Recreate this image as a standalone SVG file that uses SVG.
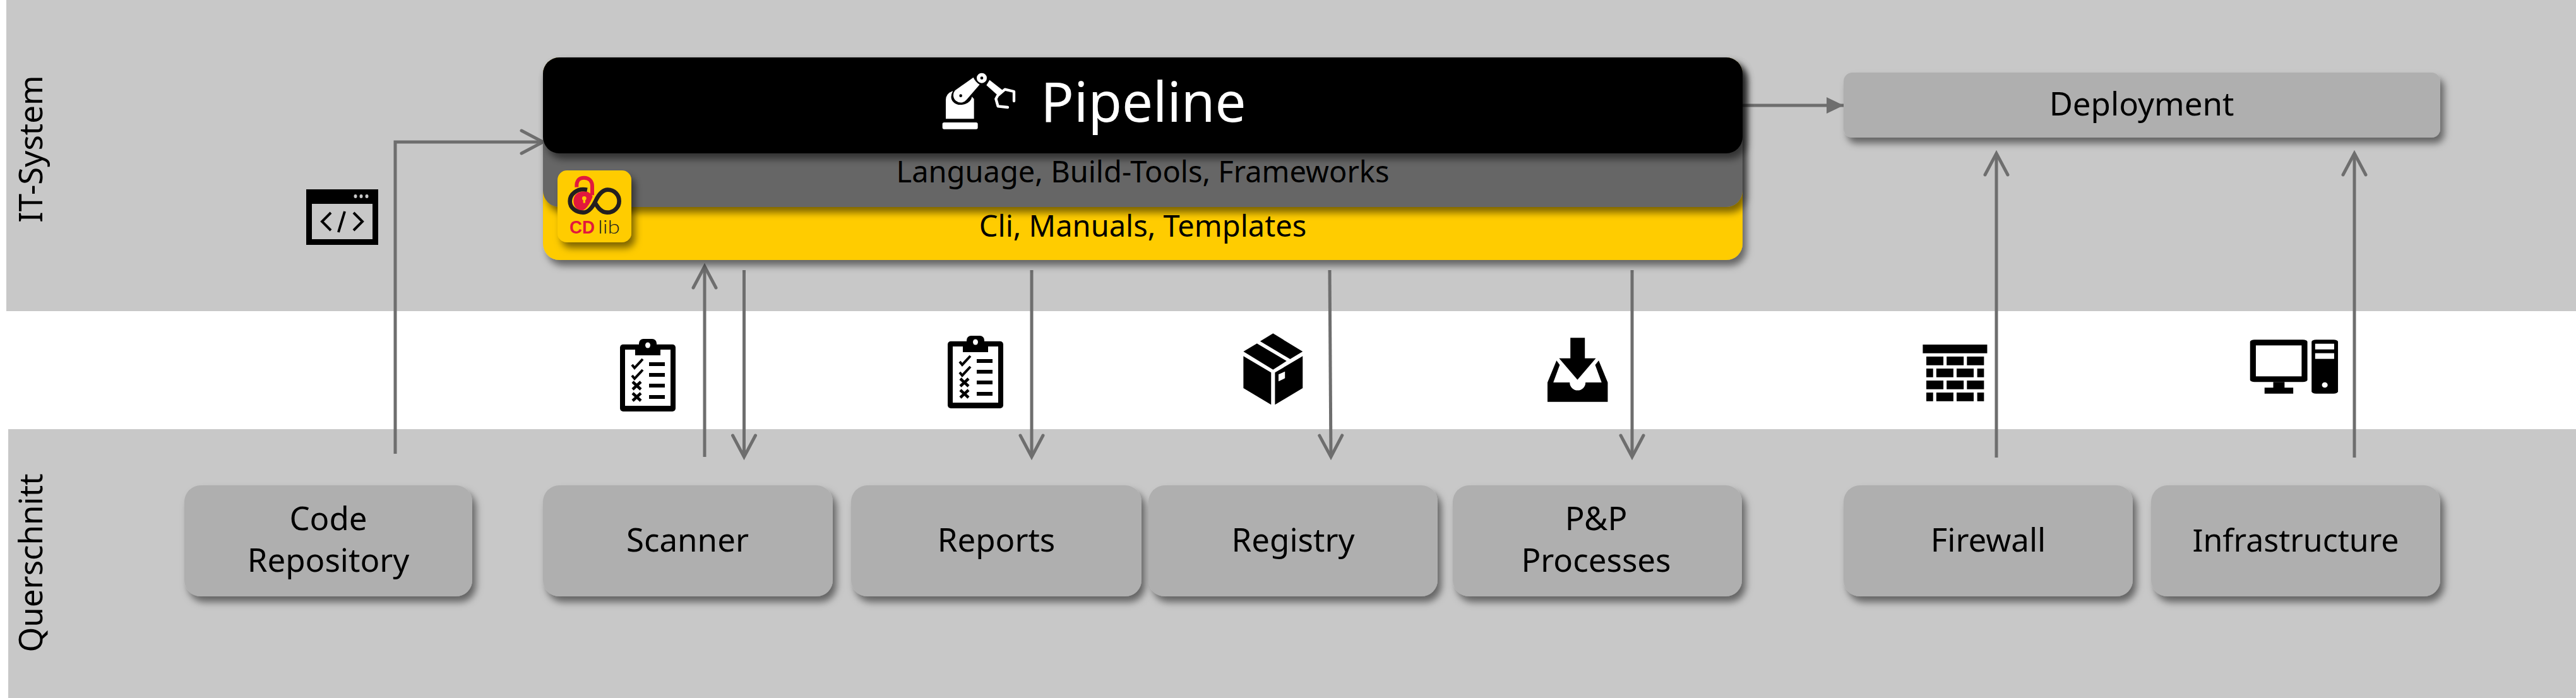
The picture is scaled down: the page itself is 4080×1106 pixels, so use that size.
<svg xmlns="http://www.w3.org/2000/svg" width="4080" height="1106" viewBox="0 0 4080 1106">
<style>
text{font-family:"Noto Sans","Open Sans","DejaVu Sans",sans-serif;fill:#000;font-weight:400}
.lbl{font-size:51px;text-anchor:middle}
.sub{font-size:47px;text-anchor:middle}
.node{fill:#afafaf;filter:url(#sh)}
.conn{fill:none;stroke:#6e6e6e;stroke-width:5}
.k{fill:#000}.w{fill:#fff}
</style>
<defs>
<filter id="sh" x="-10%" y="-20%" width="125%" height="145%"><feDropShadow dx="6" dy="9" stdDeviation="6" flood-color="#000" flood-opacity=".5"/></filter>
<marker id="open" markerUnits="userSpaceOnUse" markerWidth="50" markerHeight="50" refX="40" refY="25" orient="auto" viewBox="0 0 50 50"><path d="M6 7 L40 25 L6 43" fill="none" stroke="#6e6e6e" stroke-width="5" stroke-linecap="round"/></marker>
<marker id="solid" markerUnits="userSpaceOnUse" markerWidth="30" markerHeight="30" refX="27" refY="15" orient="auto" viewBox="0 0 30 30"><path d="M0 2 L27 15 L0 28Z" fill="#6e6e6e"/></marker>
<g id="clip">
<rect x="0" y="8.7" width="88" height="106.3" rx="5" class="k"/>
<rect x="8" y="17" width="72" height="89" class="w"/>
<rect x="30" y="0" width="28" height="20" rx="7" class="k"/>
<rect x="24" y="12" width="40" height="14" class="k"/>
<ellipse cx="44" cy="10" rx="4" ry="4.5" class="w"/>
<path d="M46 37h25v6H46zM46 54h25v6H46zM46 71h25v6H46zM46 89h25v6H46z" class="k"/>
<path d="M19 41l4 5L36 32M19 58l4 5L36 49" fill="none" stroke="#000" stroke-width="4"/>
<path d="M20 68l13 12M33 68L20 80M20 86l13 12M33 86L20 98" fill="none" stroke="#000" stroke-width="4.5"/>
</g>
</defs>

<g id="bands">
<rect x="10" y="0" width="4070" height="493" fill="#c8c8c8"/>
<rect x="13" y="680" width="4067" height="426" fill="#c8c8c8"/>
</g>
<g id="band-labels">
<text class="lbl" transform="translate(67 236) rotate(-90)">IT-System</text>
<text class="lbl" transform="translate(67 892) rotate(-90)">Querschnitt</text>
</g>

<g id="connectors">
<path class="conn" d="M626 719V225H860" marker-end="url(#open)"/>
<path class="conn" d="M1116 724V422" marker-end="url(#open)"/>
<path class="conn" d="M1178.500 428V724" marker-end="url(#open)"/>
<path class="conn" d="M1634 428V724" marker-end="url(#open)"/>
<path class="conn" d="M2106 428L2108 724" marker-end="url(#open)"/>
<path class="conn" d="M2585 428V724" marker-end="url(#open)"/>
<path class="conn" d="M3162 725V243" marker-end="url(#open)"/>
<path class="conn" d="M3729 725V243" marker-end="url(#open)"/>
<path class="conn" d="M2760 167H2920" marker-end="url(#solid)"/>
</g>

<g id="node-cli">
<rect x="860" y="91" width="1900" height="321" rx="26" fill="#ffcc00" filter="url(#sh)"/>
<text class="sub" x="1810" y="375">Cli, Manuals, Templates</text>
</g>
<g id="node-language">
<rect x="860" y="91" width="1900" height="237" rx="26" fill="#666" filter="url(#sh)"/>
<text class="sub" x="1810" y="289">Language, Build-Tools, Frameworks</text>
</g>
<g id="node-pipeline">
<rect x="860" y="91" width="1900" height="152" rx="26" fill="#000" filter="url(#sh)"/>
<g transform="translate(1460 100) scale(.3333)">
<rect x="98" y="282" width="168" height="32" rx="8" class="w"/>
<path class="w" d="M114 265V175Q114 145 148 132Q130 165 150 185Q170 205 205 195Q235 185 238 160L248 170V265Z"/>
<path class="w" fill-rule="evenodd" d="M158 130L245 68Q255 90 275 102L212 175A34 34 0 0 1 158 130ZM192 155A7 7 0 1 0 178 155A7 7 0 1 0 192 155Z"/>
<path class="w" fill-rule="evenodd" d="M309 71A24 24 0 1 0 261 71A24 24 0 1 0 309 71ZM292 71A7 7 0 1 0 278 71A7 7 0 1 0 292 71Z"/>
<path class="w" d="M322 80L385 130L360 152L307 105Z"/>
<path d="M360 155L395 125L438 135V180M360 155L352 170L362 205L408 210" fill="none" stroke="#fff" stroke-width="13" stroke-linecap="round" stroke-linejoin="round"/>
</g>
<text x="1811" y="193" style="font-size:87px;fill:#fff;text-anchor:middle">Pipeline</text>
</g>
<g id="node-cdlib">
<rect x="883" y="270" width="117" height="114" rx="15" fill="#ffcc00" filter="url(#sh)"/>
<g transform="translate(850 250) scale(.3333)">
<path d="M190 140C188 105 205 95 225 95C250 95 264 112 264 135V178" fill="none" stroke="#e2183d" stroke-width="18"/>
<path d="M175 205C175 175 200 160 225 160C250 160 262 175 266 185C255 215 235 248 215 250C195 250 175 235 175 205Z" fill="#e2183d"/>
<path d="M240 152C190 142 158 175 158 206C158 240 190 260 220 260C250 260 268 230 280 205C292 180 310 152 338 152C370 152 392 178 392 206C392 235 368 260 335 260C305 260 290 235 275 210" fill="none" stroke="#231f20" stroke-width="20"/>
<circle cx="226" cy="193" r="10" fill="#ffcc00"/>
<rect x="221" y="195" width="10" height="20" fill="#ffcc00"/>
</g>
<text x="902" y="370" style="font-size:29px;font-family:'Liberation Sans',sans-serif;font-weight:700;fill:#e2183d" textLength="40" lengthAdjust="spacingAndGlyphs">CD</text>
<text x="947" y="370" style="font-size:30px;font-family:'Lato',sans-serif;font-weight:300;fill:#231f20" textLength="35" lengthAdjust="spacingAndGlyphs">lib</text>
</g>

<g id="node-deployment">
<rect class="node" x="2920" y="115" width="945" height="103" rx="14"/>
<text class="lbl" x="3392" y="183">Deployment</text>
</g>
<g id="node-repository">
<rect class="node" x="292" y="769" width="456" height="176" rx="26"/>
<text class="lbl" x="520" y="840">Code</text>
<text class="lbl" x="520" y="906">Repository</text>
</g>
<g id="node-scanner">
<rect class="node" x="860" y="769" width="459" height="176" rx="26"/>
<text class="lbl" x="1089" y="874">Scanner</text>
</g>
<g id="node-reports">
<rect class="node" x="1348" y="769" width="460" height="176" rx="26"/>
<text class="lbl" x="1578" y="874">Reports</text>
</g>
<g id="node-registry">
<rect class="node" x="1819" y="769" width="458" height="176" rx="26"/>
<text class="lbl" x="2048" y="874">Registry</text>
</g>
<g id="node-processes">
<rect class="node" x="2301" y="769" width="458" height="176" rx="26"/>
<text class="lbl" x="2528" y="840">P&amp;P</text>
<text class="lbl" x="2528" y="906">Processes</text>
</g>
<g id="node-firewall">
<rect class="node" x="2920" y="769" width="458" height="176" rx="26"/>
<text class="lbl" x="3149" y="874">Firewall</text>
</g>
<g id="node-infrastructure">
<rect class="node" x="3407" y="769" width="458" height="176" rx="26"/>
<text class="lbl" x="3636" y="874" style="font-size:50px">Infrastructure</text>
</g>

<g id="icon-code">
<rect x="485" y="300" width="114" height="88" class="k"/>
<rect x="494" y="323" width="96" height="56" fill="#c8c8c8"/>
<ellipse cx="563" cy="311" rx="2.500" ry="3" fill="#c8c8c8"/><ellipse cx="572" cy="311" rx="2.500" ry="3" fill="#c8c8c8"/><ellipse cx="581" cy="311" rx="2.500" ry="3" fill="#c8c8c8"/>
<path d="M524 337L510 351L524 365M560 337L574 351L560 365M546 335L536 368" fill="none" stroke="#000" stroke-width="4"/>
</g>
<g id="icon-clipboard-scanner"><use href="#clip" x="982" y="537"/></g>
<g id="icon-clipboard-reports"><use href="#clip" x="1501" y="532"/></g>
<g id="icon-package" transform="translate(1900 480) scale(.5102 .3333)" class="k">
<path d="M228 145L320 231L281 267L188 182Z"/>
<path d="M178 193L270 276L228 317L136 231Z"/>
<path d="M136 253L222 331V484L136 405Z"/>
<path d="M234 331L320 253V405L234 484ZM245 340V373L265 358V326Z" fill-rule="evenodd"/>
</g>
<g id="icon-inbox" transform="translate(1900 480) scale(.5102 .3333)" class="k">
<path d="M1151 166H1196V263H1230L1173 365L1116 263H1151Z"/>
<path d="M1080 378L1108 274L1118 295L1098 378H1149A24 37 0 0 0 1198 378H1248L1228 295L1239 274L1267 378V470H1080Z"/>
</g>
<g id="icon-wall" transform="translate(2950 480) scale(.5102 .3333)" class="k">
<path d="M187 198H387V239H187Z"/>
<path d="M198 255h53v41h-53zM261 255h53v41h-53zM324 255h53v41h-53z"/>
<path d="M198 312h21v41h-21zM229 312h53v41h-53zM292 312h53v41h-53zM356 312h21v41h-21z"/>
<path d="M198 369h53v41h-53zM261 369h53v41h-53zM324 369h53v41h-53z"/>
<path d="M198 426h21v41h-21zM229 426h53v41h-53zM292 426h53v41h-53zM356 426h21v41h-21z"/>
</g>
<g id="icon-computer" transform="translate(2950 480) scale(.5102 .3333)">
<rect x="1203" y="175" width="178" height="201" rx="14" ry="10" class="k"/>
<rect x="1221" y="202" width="142" height="147" class="w"/>
<path class="k" d="M1275 376H1310V403H1337V431H1248V403H1275Z"/>
<rect x="1394" y="175" width="82" height="256" rx="14" ry="10" class="k"/>
<rect x="1405" y="194" width="59" height="27" class="w"/>
<rect x="1405" y="239" width="59" height="27" class="w"/>
<ellipse cx="1435" cy="390" rx="9" ry="13" class="w"/>
</g>
</svg>
